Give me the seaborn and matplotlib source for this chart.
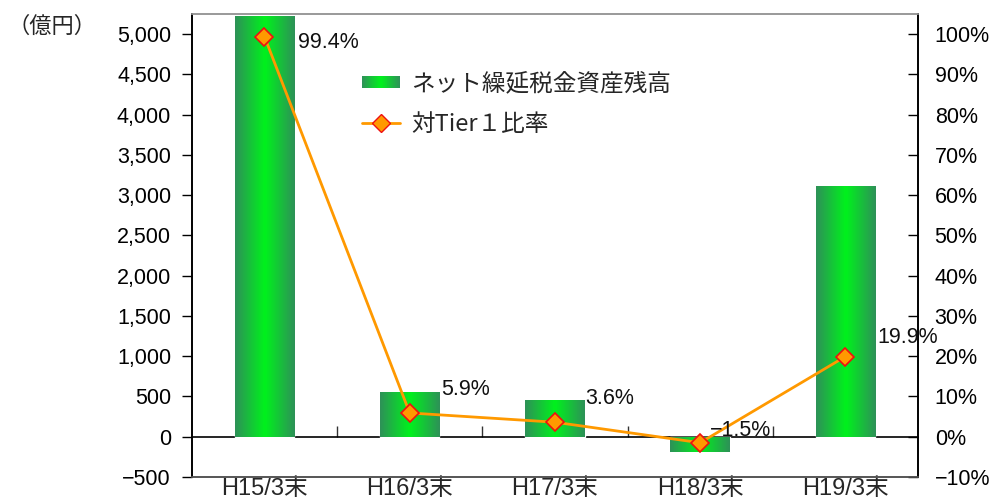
import numpy as np
import pandas as pd
import matplotlib
matplotlib.use("Agg")
import matplotlib.pyplot as plt
import seaborn as sns
from matplotlib.colors import LinearSegmentedColormap
from matplotlib.patches import Rectangle
from matplotlib.legend_handler import HandlerBase
from matplotlib.lines import Line2D
from matplotlib.ticker import FuncFormatter, MultipleLocator

# data
periods = ["H15/3末", "H16/3末", "H17/3末", "H18/3末", "H19/3末"]
dta_balance = [5220, 560, 450, -190, 3110]        # 億円
tier1_ratio = [99.4, 5.9, 3.6, -1.5, 19.9]        # %
ratio_labels = ["99.4%", "5.9%", "3.6%", "−1.5%", "19.9%"]
label_offsets = [(24, -4), (23, 17), (22, 17), (7, 9), (23, 14)]  # points

bar_name = "ネット繰延税金資産残高"
line_name = "対Tier１比率"
unit_label = "（億円）"

df = pd.DataFrame({"period": periods, "balance": dta_balance, "ratio": tier1_ratio})

sns.set_style("white")
plt.rcParams["font.family"] = ["Liberation Sans", "Noto Sans CJK JP", "DejaVu Sans"]

green_cmap = LinearSegmentedColormap.from_list(
    "bar_grad", ["#2e9158", "#00f21c", "#2e9158"])

fig = plt.figure(figsize=(9.94, 5.01), dpi=100)
ax = fig.add_axes([0.193, 0.048, 0.7305, 0.924])

sns.barplot(data=df, x="period", y="balance", ax=ax, width=0.41,
            color="#22cc44", saturation=1)

# horizontal gradient fill clipped to each bar
grad = np.linspace(0, 1, 256).reshape(1, -1)
for p in list(ax.patches):
    bb = p.get_bbox()
    im = ax.imshow(grad, extent=[bb.x0, bb.x1, bb.y0, bb.y1], aspect="auto",
                   cmap=green_cmap, zorder=p.get_zorder(), interpolation="bicubic")
    im.set_clip_path(p)

ax.set_xlim(-0.5, len(periods) - 0.5)
ymin, ymax = -500, 5250
ax.set_ylim(ymin, ymax)
ax.yaxis.set_major_locator(MultipleLocator(500))
ax.yaxis.set_major_formatter(FuncFormatter(lambda v, _: f"{v:,.0f}".replace("-", "−")))
ax.set_xlabel("")
ax.set_ylabel("")
ax.tick_params(axis="y", direction="out", length=7, width=1, labelsize=15.5, pad=8, colors="black")
ax.tick_params(axis="x", length=0, labelsize=17, pad=1)

# zero line with category-boundary ticks
zero_loc = (0 - ymin) / (ymax - ymin)
sec = ax.secondary_xaxis(zero_loc)
sec.set_xticks(np.arange(len(periods) - 1) + 0.5)
sec.set_xticklabels([])
sec.tick_params(direction="in", length=8, width=1, color="#333333")
for s in sec.spines.values():
    s.set_color("black")
    s.set_linewidth(1.2)

# ratio on the right axis
ax2 = ax.twinx()
sns.pointplot(data=df, x="period", y="ratio", ax=ax2, color="#ff9900",
              markers="D", linestyles="-", linewidth=2,
              markersize=9, markerfacecolor="#ff9900", markeredgecolor="#ee1111",
              markeredgewidth=1.2)
ax2.set_ylim(ymin / 50, ymax / 50)
ax2.set_xlim(-0.5, len(periods) - 0.5)
ax2.yaxis.set_major_locator(MultipleLocator(10))
ax2.yaxis.set_major_formatter(FuncFormatter(lambda v, _: f"{v:.0f}%".replace("-", "−")))
ax2.set_ylabel("")
ax2.tick_params(axis="y", direction="in", length=7, width=1, labelsize=15.5, pad=12, colors="black")

for i, (val, lab, off) in enumerate(zip(tier1_ratio, ratio_labels, label_offsets)):
    ax2.annotate(lab, (i, val), xytext=off, textcoords="offset points",
                 ha="left", va="center", fontsize=15.5, color="#111111")

for a in (ax, ax2):
    a.spines["left"].set_color("black")
    a.spines["right"].set_color("black")
    a.spines["top"].set_color("#999999")
    a.spines["bottom"].set_color("#555555")
    for s in a.spines.values():
        s.set_linewidth(1.2)

fig.text(0.008, 0.948, unit_label, fontsize=16, ha="left", va="center",
         family=["Noto Sans CJK JP"])


class GradientHandler(HandlerBase):
    def create_artists(self, legend, orig_handle, xdescent, ydescent,
                       width, height, fontsize, trans):
        n = 40
        h = height * 0.75
        arts = []
        for i in range(n):
            r = Rectangle((-xdescent + i * width / n, -ydescent + (height - h) / 2),
                          width / n * 1.05, h, transform=trans,
                          facecolor=green_cmap((i + 0.5) / n), edgecolor="none")
            arts.append(r)
        return arts


bar_handle = Rectangle((0, 0), 1, 1)
line_handle = Line2D([], [], color="#ff9900", lw=2, marker="D", markersize=9,
                     markerfacecolor="#ff9900", markeredgecolor="#ee1111")
ax2.legend([bar_handle, line_handle], [bar_name, line_name],
           handler_map={Rectangle: GradientHandler()},
           loc="upper left", bbox_to_anchor=(0.205, 0.92), frameon=False,
           fontsize=17, handlelength=1.6, handletextpad=0.5, labelspacing=0.75,
           prop={"family": ["Noto Sans CJK JP"], "size": 17})

fig.savefig("out.png", dpi=100)
